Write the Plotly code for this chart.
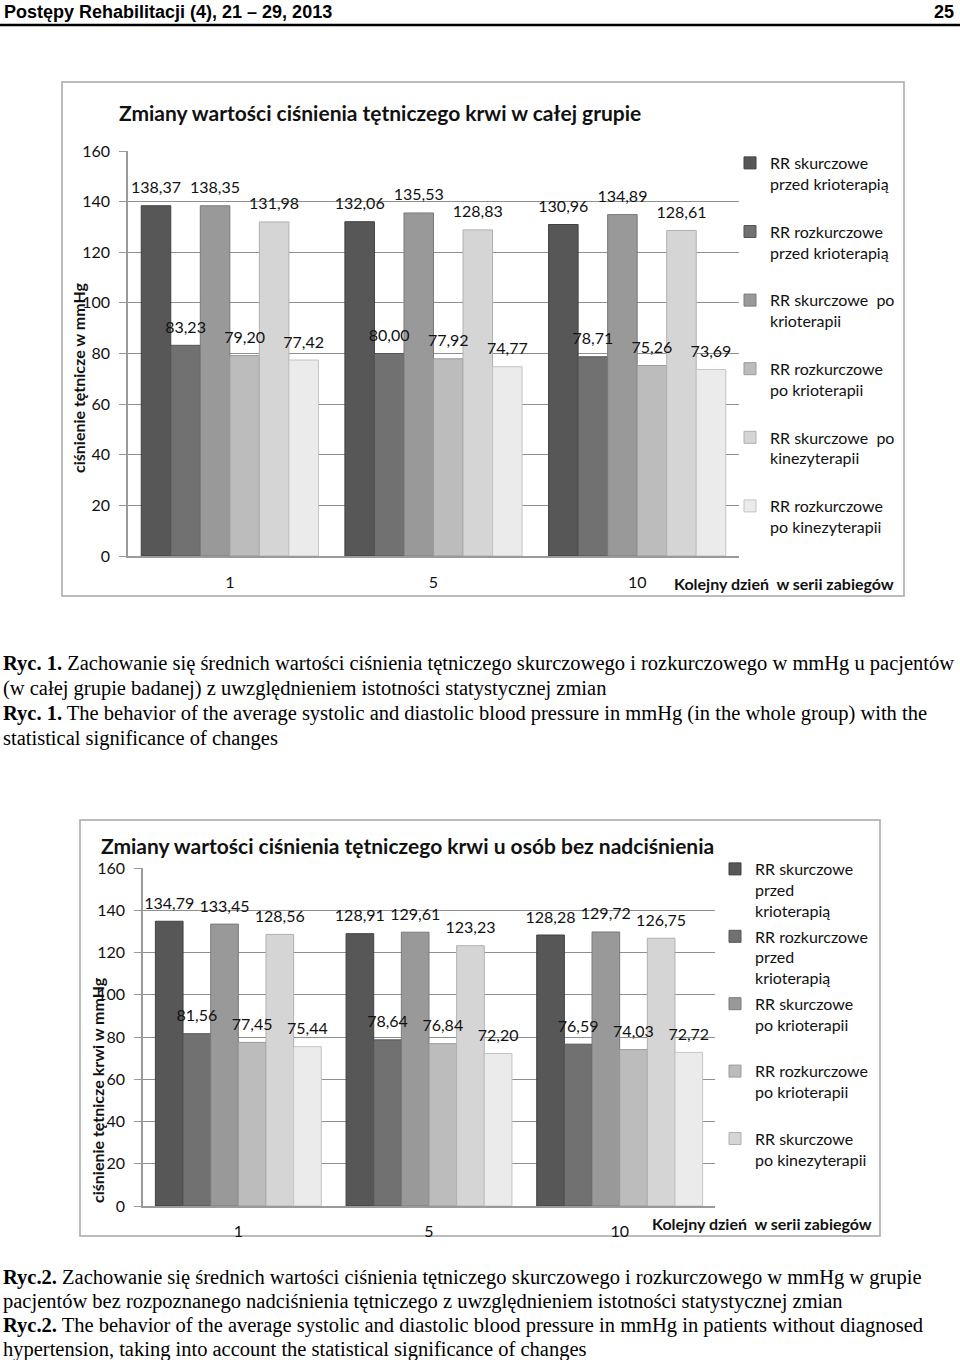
import plotly.graph_objects as go

W, H = 960, 1360

days = ["1", "5", "10"]

legend_names_1 = [
    "RR skurczowe<br>przed krioterapią",
    "RR rozkurczowe<br>przed krioterapią",
    "RR skurczowe  po<br>krioterapii",
    "RR rozkurczowe<br>po krioterapii",
    "RR skurczowe  po<br>kinezyterapii",
    "RR rozkurczowe<br>po kinezyterapii",
]
legend_names_2 = [
    "RR skurczowe<br>przed<br>krioterapią",
    "RR rozkurczowe<br>przed<br>krioterapią",
    "RR skurczowe<br>po krioterapii<br> ",
    "RR rozkurczowe<br>po krioterapii<br> ",
    "RR skurczowe<br>po kinezyterapii<br> ",
    "RR rozkurczowe<br>po kinezyterapii<br> ",
]

# Figure 1: whole group
all_sys_pre_cryo = [138.37, 132.06, 130.96]
all_dia_pre_cryo = [83.23, 80.00, 78.71]
all_sys_post_cryo = [138.35, 135.53, 134.89]
all_dia_post_cryo = [79.20, 77.92, 75.26]
all_sys_post_kine = [131.98, 128.83, 128.61]
all_dia_post_kine = [77.42, 74.77, 73.69]

# Figure 2: patients without hypertension
nh_sys_pre_cryo = [134.79, 128.91, 128.28]
nh_dia_pre_cryo = [81.56, 78.64, 76.59]
nh_sys_post_cryo = [133.45, 129.61, 129.72]
nh_dia_post_cryo = [77.45, 76.84, 74.03]
nh_sys_post_kine = [128.56, 123.23, 126.75]
nh_dia_post_kine = [75.44, 72.20, 72.72]

colors = ["#575757", "#717171", "#999999", "#bcbcbc", "#d5d5d5", "#ebebeb"]
edge = ["#404040", "#555555", "#7a7a7a", "#9a9a9a", "#b0b0b0", "#c4c4c4"]

FONT = "Lato"
GAP = 0.13


def px(x):
    return x / W


def py(y):
    return 1 - y / H


fig = go.Figure()

series1 = [all_sys_pre_cryo, all_dia_pre_cryo, all_sys_post_cryo,
           all_dia_post_cryo, all_sys_post_kine, all_dia_post_kine]
series2 = [nh_sys_pre_cryo, nh_dia_pre_cryo, nh_sys_post_cryo,
           nh_dia_post_cryo, nh_sys_post_kine, nh_dia_post_kine]


def add_chart(series, names, xa, ya, leg, tag, n_legend):
    for i, vals in enumerate(series):
        fig.add_trace(go.Bar(
            x=days, y=vals, name=names[i],
            marker=dict(color=colors[i], line=dict(color=edge[i], width=1)),
            offsetgroup=str(i), alignmentgroup=tag,
            xaxis=xa, yaxis=ya, legend=leg, legendgroup=tag + str(i),
            showlegend=(i < n_legend), hoverinfo="skip",
        ))
    # value labels drawn on top of all bars
    for i, vals in enumerate(series):
        fig.add_trace(go.Scatter(
            x=days, y=vals, mode="markers+text", texttemplate="%{y:.2f}",
            textposition="top center", offsetgroup=str(i), alignmentgroup=tag,
            marker=dict(size=12, color="rgba(0,0,0,0)"),
            textfont=dict(family=FONT, size=16, color="#111"), cliponaxis=False,
            xaxis=xa, yaxis=ya, showlegend=False, hoverinfo="skip",
        ))


add_chart(series1, legend_names_1, "x", "y", "legend", "a", 6)
add_chart(series2, legend_names_2, "x2", "y2", "legend2", "b", 5)

axis_common_y = dict(
    range=[0, 160], dtick=20, showgrid=True, gridcolor="#8f8f8f", gridwidth=1,
    showline=True, linecolor="#9a9a9a", linewidth=1.5, ticks="outside",
    tickcolor="#9a9a9a", ticklen=7, tickfont=dict(family=FONT, size=16, color="#111"),
    zeroline=False, fixedrange=True, automargin=False,
)
axis_common_x = dict(
    type="category", showgrid=False, showline=True, linecolor="#9a9a9a", linewidth=1.5,
    ticks="", tickfont=dict(family=FONT, size=16, color="#111"), fixedrange=True,
    automargin=False,
)

fig.update_layout(
    width=W, height=H, autosize=False,
    margin=dict(l=0, r=0, t=0, b=0, pad=0, autoexpand=False),
    paper_bgcolor="white", plot_bgcolor="white",
    separators=",.",
    barmode="group", bargap=GAP, bargroupgap=0,
    scattermode="group", scattergap=GAP,
    font=dict(family=FONT, color="#111"),
    xaxis=dict(domain=[px(128), px(739)], anchor="y", ticklabelstandoff=11, **axis_common_x),
    yaxis=dict(domain=[py(556), py(151)], anchor="x", ticklabelstandoff=6, **axis_common_y),
    xaxis2=dict(domain=[px(143), px(715)], anchor="y2", ticklabelstandoff=10, **axis_common_x),
    yaxis2=dict(domain=[py(1206), py(868)], anchor="x2", ticklabelstandoff=6, **axis_common_y),
    legend=dict(x=px(730), y=py(146), xanchor="left", yanchor="top",
                font=dict(family=FONT, size=16, color="#111"), valign="top",
                tracegroupgap=24, traceorder="grouped", bgcolor="rgba(0,0,0,0)"),
    legend2=dict(x=px(715), y=py(852), xanchor="left", yanchor="top",
                 font=dict(family=FONT, size=16, color="#111"), valign="top",
                 tracegroupgap=2, traceorder="grouped", bgcolor="rgba(0,0,0,0)"),
    showlegend=True,
)

ann = []
# Header
HDR = "Liberation Sans Narrow, Liberation Sans"
ann.append(dict(text="<b>Postępy Rehabilitacji (4), 21 – 29, 2013</b>", x=px(2), y=py(12),
                xanchor="left", yanchor="middle", font=dict(family=HDR, size=18, color="#000")))
ann.append(dict(text="<b>25</b>", x=px(956), y=py(12), xanchor="right", yanchor="middle",
                font=dict(family=HDR, size=18, color="#000")))

# Chart 1 texts
ann.append(dict(text="<b>Zmiany wartości ciśnienia tętniczego krwi w całej grupie</b>",
                x=px(380), y=py(112), xanchor="center", yanchor="middle",
                font=dict(family=FONT, size=21, color="#111")))
ann.append(dict(text="<b>ciśnienie tętnicze w mmHg</b>", x=px(78), y=py(378), textangle=-90,
                xanchor="center", yanchor="middle", font=dict(family=FONT, size=16, color="#111")))
ann.append(dict(text="<b>Kolejny dzień  w serii zabiegów</b>", x=px(896), y=py(583),
                xanchor="right", yanchor="middle", font=dict(family=FONT, size=16, color="#111")))

# Chart 2 texts
ann.append(dict(text="<b>Zmiany wartości ciśnienia tętniczego krwi u osób bez nadciśnienia</b>",
                x=px(407), y=py(845), xanchor="center", yanchor="middle",
                font=dict(family=FONT, size=21, color="#111")))
ann.append(dict(text="<b>ciśnienie tętnicze krwi w mmHg</b>", x=px(97), y=py(1090), textangle=-90,
                xanchor="center", yanchor="middle", font=dict(family=FONT, size=16, color="#111")))
ann.append(dict(text="<b>Kolejny dzień  w serii zabiegów</b>", x=px(874), y=py(1223),
                xanchor="right", yanchor="middle", font=dict(family=FONT, size=16, color="#111")))

# Captions
SERIF = "Liberation Serif"
cap1 = [
    "<b>Ryc. 1.</b> Zachowanie się średnich wartości ciśnienia tętniczego skurczowego i rozkurczowego w mmHg u pacjentów",
    "(w całej grupie badanej) z uwzględnieniem istotności statystycznej zmian",
    "<b>Ryc. 1.</b> The behavior of the average systolic and diastolic blood pressure in mmHg (in the whole group) with the",
    "statistical significance of changes",
]
cap1_y = [663, 688, 713, 738]
cap2 = [
    "<b>Ryc.2.</b> Zachowanie się średnich wartości ciśnienia tętniczego skurczowego i rozkurczowego w mmHg w grupie",
    "pacjentów bez rozpoznanego nadciśnienia tętniczego z uwzględnieniem istotności statystycznej zmian",
    "<b>Ryc.2.</b> The behavior of the average systolic and diastolic blood pressure in mmHg in patients without diagnosed",
    "hypertension, taking into account the statistical significance of changes",
]
cap2_y = [1277, 1301, 1325, 1349]
for t, yy in zip(cap1 + cap2, cap1_y + cap2_y):
    ann.append(dict(text=t, x=px(1), y=py(yy), xanchor="left", yanchor="middle",
                    font=dict(family=SERIF, size=20.5, color="#000")))

for a in ann:
    a.update(xref="paper", yref="paper", showarrow=False)
fig.update_layout(annotations=ann)

shapes = [
    dict(type="line", x0=0, x1=1, y0=py(25), y1=py(25), line=dict(color="#000", width=2.5)),
    dict(type="rect", x0=px(62), x1=px(904), y0=py(82), y1=py(596),
         line=dict(color="#a6a6a6", width=1.5)),
    dict(type="rect", x0=px(80), x1=px(880), y0=py(820), y1=py(1236),
         line=dict(color="#a6a6a6", width=1.5)),
]
for s in shapes:
    s.update(xref="paper", yref="paper", layer="below")
fig.update_layout(shapes=shapes)

fig.write_html(
    "out.html",
    config={"displayModeBar": False},
    post_script="document.body.style.margin='0';document.body.style.overflow='hidden';",
)
